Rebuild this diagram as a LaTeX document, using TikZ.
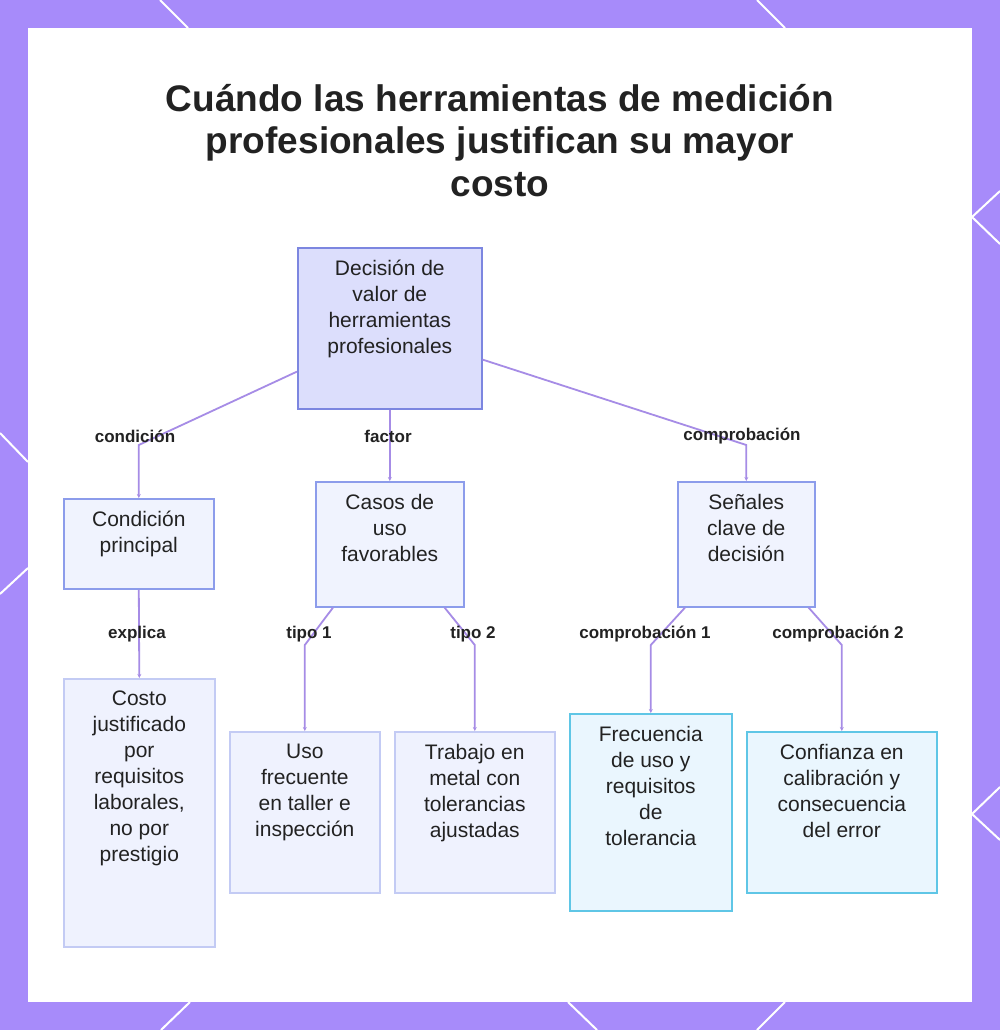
\documentclass[tikz,border=0pt]{standalone}
\usepackage{fontspec}
\setmainfont{Liberation Sans}
\usetikzlibrary{positioning,arrows.meta,calc}
\definecolor{framepurple}{HTML}{A78BFA}
\definecolor{linkpurple}{HTML}{A68CE6}
\definecolor{ink}{HTML}{222222}
\definecolor{rootfill}{HTML}{DCDEFC}
\definecolor{rootline}{HTML}{7C86E0}
\definecolor{midfill}{HTML}{F0F3FE}
\definecolor{midline}{HTML}{8C9CEB}
\definecolor{leaffill}{HTML}{EFF2FE}
\definecolor{leafline}{HTML}{C3CBF4}
\definecolor{checkfill}{HTML}{EAF6FE}
\definecolor{checkline}{HTML}{5FC6E6}

\begin{document}
\begin{tikzpicture}[x=1pt, y=-1pt, >={Stealth[length=4pt,width=4pt]},
	box/.style={draw, line width=1.6pt, anchor=north west, inner sep=0pt},
	rootbox/.style={box, fill=rootfill, draw=rootline},
	midbox/.style={box, fill=midfill, draw=midline},
	leafbox/.style={box, fill=leaffill, draw=leafline},
	checkbox/.style={box, fill=checkfill, draw=checkline},
	boxtext/.style={anchor=north, align=center, inner sep=0pt, text=ink, font=\fontsize{21}{26}\selectfont, execute at begin node=\strut},
	link/.style={draw=linkpurple, line width=1.8pt, ->},
	lbl/.style={inner sep=0pt, text=ink, font=\fontsize{17}{20}\selectfont\bfseries}]
	% frame and panel
	\useasboundingbox (0,0) rectangle (1000,1030);
	\fill[framepurple] (0,0) rectangle (1000,1030);
	\fill[white] (28,28) rectangle (972,1002);
	\draw[white, line width=2pt] (160,0) -- (188,28) (757,0) -- (785,28);
	\draw[white, line width=2pt] (0,433) -- (28,462) (28,568) -- (0,594);
	\draw[white, line width=2pt] (1000,191) -- (972,217) -- (1000,244);
	\draw[white, line width=2pt] (1000,787) -- (972,814) -- (1000,840);
	\draw[white, line width=2pt] (190,1002) -- (161,1030) (568,1002) -- (597,1030) (785,1002) -- (757,1030);
	% title
	\node[anchor=north, align=center, inner sep=0pt, text=ink, font=\fontsize{37}{42.5}\selectfont\bfseries, execute at begin node=\strut] (title) at (500,84) {Cuándo las herramientas de medición\\profesionales justifican su mayor\\costo};
	% boxes
	\node[rootbox, minimum width=184pt, minimum height=161pt] (root) at (297,247) {};
	\node[boxtext] (root-t) at ([yshift=-13pt]root.north) {Decisión de\\valor de\\herramientas\\profesionales};
	\node[midbox, minimum width=150pt, minimum height=90pt] (cond) at (63,498) {};
	\node[boxtext] (cond-t) at ([yshift=-13pt]cond.north) {Condición\\principal};
	\node[midbox, minimum width=148pt, minimum height=125pt] (uses) at (315,481) {};
	\node[boxtext] (uses-t) at ([yshift=-13pt]uses.north) {Casos de\\uso\\favorables};
	\node[midbox, minimum width=137pt, minimum height=125pt] (signals) at (677,481) {};
	\node[boxtext] (signals-t) at ([yshift=-13pt]signals.north) {Señales\\clave de\\decisión};
	\node[leafbox, minimum width=151pt, minimum height=268pt] (cost) at (63,678) {};
	\node[boxtext] (cost-t) at ([yshift=-13pt]cost.north) {Costo\\justificado\\por\\requisitos\\laborales,\\no por\\prestigio};
	\node[leafbox, minimum width=150pt, minimum height=161pt] (freqshop) at (229,731) {};
	\node[boxtext] (freqshop-t) at ([yshift=-13pt]freqshop.north) {Uso\\frecuente\\en taller e\\inspección};
	\node[leafbox, minimum width=160pt, minimum height=161pt] (metal) at (394,731) {};
	\node[boxtext] (metal-t) at ([yshift=-13pt]metal.north) {Trabajo en\\metal con\\tolerancias\\ajustadas};
	\node[checkbox, minimum width=162pt, minimum height=197pt] (freqtol) at (569,713) {};
	\node[boxtext] (freqtol-t) at ([yshift=-13pt]freqtol.north) {Frecuencia\\de uso y\\requisitos\\de\\tolerancia};
	\node[checkbox, minimum width=190pt, minimum height=161pt] (trust) at (746,731) {};
	\node[boxtext] (trust-t) at ([yshift=-13pt]trust.north) {Confianza en\\calibración y\\consecuencia\\del error};
	% connectors
	\path[link] ([yshift=38pt]root.south west) -- (cond.north |- 0,445) -- (cond.north);
	\path[link] (root.south) -- (uses.north);
	\path[link] ([yshift=50pt]root.south east) -- (signals.north |- 0,445) -- (signals.north);
	\path[link] (cond.south) -- (cost.north);
	\path[link] ([xshift=18pt]uses.south west) -- (freqshop.north |- 0,645) -- (freqshop.north);
	\path[link] ([xshift=-20pt]uses.south east) -- (metal.north |- 0,645) -- (metal.north);
	\path[link] ([xshift=8pt]signals.south west) -- (freqtol.north |- 0,645) -- (freqtol.north);
	\path[link] ([xshift=-7pt]signals.south east) -- (trust.north |- 0,645) -- (trust.north);
	% connector labels
	\node[lbl] (l-cond) at (135,436) {condición};
	\node[lbl] (l-factor) at (388,436) {factor};
	\node[lbl] (l-check) at (742,436) {comprobación};
	\node[lbl] (l-explain) at (137,634) {explica};
	\node[lbl] (l-type1) at (309,634) {tipo 1};
	\node[lbl] (l-type2) at (473,634) {tipo 2};
	\node[lbl] (l-check1) at (645,634) {comprobación 1};
	\node[lbl] (l-check2) at (838,634) {comprobación 2};
\end{tikzpicture}
\end{document}
